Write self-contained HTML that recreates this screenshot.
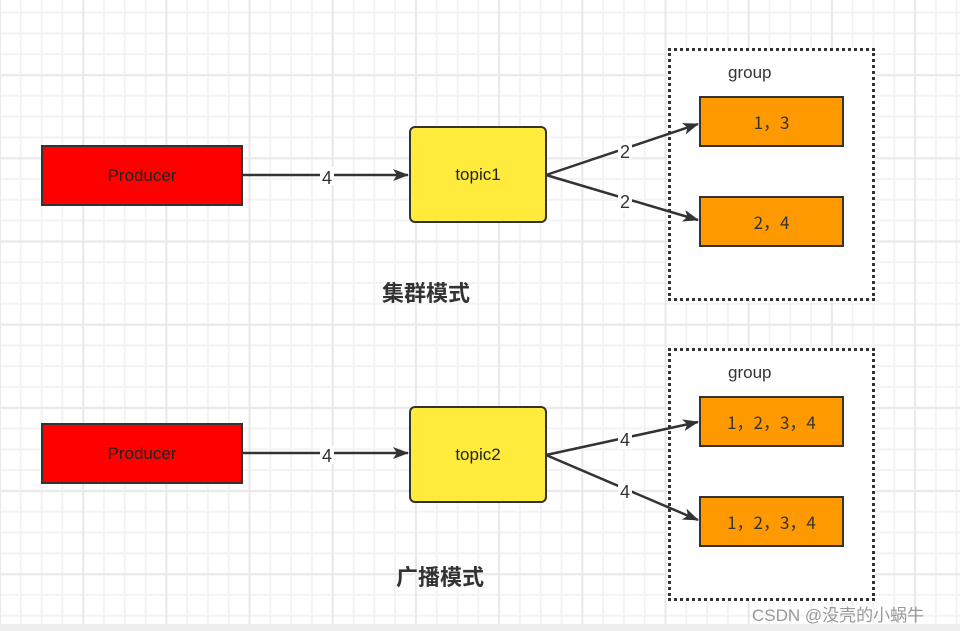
<!DOCTYPE html>
<html><head><meta charset="utf-8"><style>
html,body{margin:0;padding:0}
body{width:960px;height:631px;overflow:hidden;position:relative;font-family:"Liberation Sans","Noto Sans CJK SC",sans-serif;
background-color:#fff;
background-image:linear-gradient(#e9e9e9 2px,transparent 2px),linear-gradient(90deg,#e9e9e9 2px,transparent 2px),linear-gradient(#f3f3f3 2px,transparent 2px),linear-gradient(90deg,#f3f3f3 2px,transparent 2px);
background-size:83.2px 83.2px,83.2px 83.2px,20.8px 20.8px,20.8px 20.8px;
background-position:0 -9px,-1px 0,0 11.5px,-1px 0;}
.b{position:absolute;box-sizing:border-box;border:2px solid #333;display:flex;align-items:center;justify-content:center;font-size:17px;color:#222}
.n{font-family:"Noto Sans CJK SC",sans-serif;font-size:17px;color:#333}
.g{position:absolute;box-sizing:border-box;border:3px dotted #333;background:#fff}
.t{position:absolute;font-size:17px;color:#333}
.h{position:absolute;font-size:22px;font-weight:bold;color:#333;font-family:"Noto Sans CJK SC",sans-serif;line-height:1}
</style></head><body>
<div class="g" style="left:668px;top:48px;width:207px;height:253px"></div>
<div class="g" style="left:668px;top:348px;width:207px;height:253px"></div>
<svg width="960" height="631" style="position:absolute;left:0;top:0">
<defs><marker id="a" markerWidth="16" markerHeight="12" refX="15" refY="6" orient="auto" markerUnits="userSpaceOnUse"><path d="M0,0 L16,6 L0,12 L4,6z" fill="#333"/></marker></defs>
<g stroke="#333" stroke-width="2.5" fill="none">
<line x1="242" y1="175" x2="408" y2="175" marker-end="url(#a)"/>
<line x1="546" y1="175" x2="698" y2="124" marker-end="url(#a)"/>
<line x1="546" y1="175" x2="698" y2="220" marker-end="url(#a)"/>
<line x1="242" y1="453" x2="408" y2="453" marker-end="url(#a)"/>
<line x1="546" y1="455" x2="698" y2="422" marker-end="url(#a)"/>
<line x1="546" y1="455" x2="698" y2="520" marker-end="url(#a)"/>
</g>
<g font-size="18" fill="#333" font-family="Liberation Sans" text-anchor="middle">
<rect x="320" y="167" width="14" height="18" fill="#fff"/><text x="327" y="184">4</text>
<rect x="618" y="141" width="14" height="18" fill="#fff"/><text x="625" y="158">2</text>
<rect x="618" y="192" width="14" height="18" fill="#fff"/><text x="625" y="208">2</text>
<rect x="320" y="446" width="14" height="18" fill="#fff"/><text x="327" y="462">4</text>
<rect x="618" y="431" width="14" height="18" fill="#fff"/><text x="625" y="446">4</text>
<rect x="618" y="482" width="14" height="18" fill="#fff"/><text x="625" y="498">4</text>
</g></svg>
<div class="b" style="left:41px;top:145px;width:202px;height:61px;background:#f00">Producer</div>
<div class="b" style="left:41px;top:423px;width:202px;height:61px;background:#f00">Producer</div>
<div class="b" style="left:409px;top:126px;width:138px;height:97px;background:#ffeb3b;border-radius:6px">topic1</div>
<div class="b" style="left:409px;top:406px;width:138px;height:97px;background:#ffeb3b;border-radius:6px">topic2</div>
<div class="b n" style="left:699px;top:96px;width:145px;height:51px;background:#ff9900">1，3</div>
<div class="b n" style="left:699px;top:196px;width:145px;height:51px;background:#ff9900">2，4</div>
<div class="b n" style="left:699px;top:396px;width:145px;height:51px;background:#ff9900">1，2，3，4</div>
<div class="b n" style="left:699px;top:496px;width:145px;height:51px;background:#ff9900">1，2，3，4</div>
<div class="t" style="left:728px;top:63px">group</div>
<div class="t" style="left:728px;top:363px">group</div>
<div class="h" style="left:382px;top:281px">集群模式</div>
<div class="h" style="left:396px;top:565px">广播模式</div>
<div style="position:absolute;left:0;top:624px;width:960px;height:7px;background:#eee"></div>
<div style="position:absolute;left:752px;top:601px;font-size:17px;color:#999">CSDN @没壳的小蜗牛</div>
</body></html>
